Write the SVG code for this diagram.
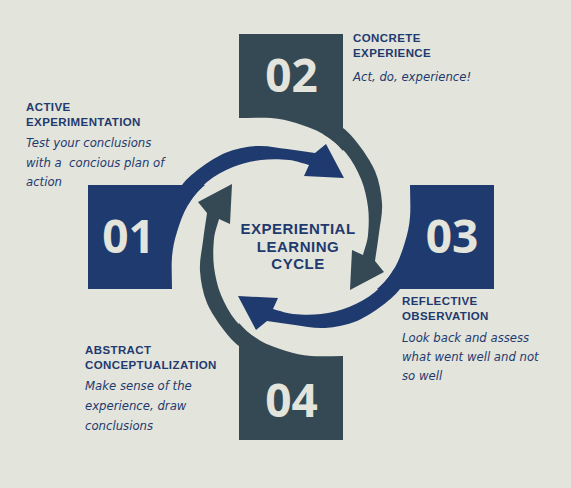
<svg xmlns="http://www.w3.org/2000/svg" width="571" height="488" viewBox="0 0 571 488">
<defs>
<style>
.navy{fill:#1f3a6e}
.slate{fill:#344954}
.num{font-family:"Open Sans","Noto Sans",sans-serif;font-weight:bold;font-size:46px;fill:#e3e4dc;text-anchor:middle}
.head{font-family:"Liberation Sans",Arial,sans-serif;font-weight:bold;font-size:11.5px;letter-spacing:0.4px;fill:#1f3a6e}
.desc{font-family:"DejaVu Sans",sans-serif;font-style:italic;font-size:11.7px;fill:#1f3a6e}
.title{font-family:"Liberation Sans",Arial,sans-serif;font-weight:bold;font-size:15px;letter-spacing:0.5px;fill:#1f3a6e;text-anchor:middle}
</style>
<path id="box" d="M -52,-203 H 52 V -86 C 46,-93 40.3,-98 32,-103 C 23.7,-108 13.7,-111.3 5,-114 C -3.7,-116.7 -10.5,-118.2 -20,-119 C -29.5,-119.8 -41.3,-119 -52,-119 Z"/>
<path id="band" d="M 52,-109 C 64,-100 79.4,-77.1 84,-66 C 88.2,-55.8 90.3,-44.3 91,-34 C 91.7,-23.7 89.2,-13.7 88,-4 C 86.8,5.7 85.3,14.7 84,24 L 93,35 L 59,53 L 61,13 L 72,18 C 73.7,11.3 76.2,6 77,-2 C 77.8,-10 78.2,-20.7 77,-30 C 75.8,-39.3 73.7,-49 70,-58 C 66.3,-67 61.3,-76.5 55,-84 C 48.7,-91.5 40.3,-98 32,-103 L 40,-122 L 52,-122 Z"/>
</defs>
<rect width="571" height="488" fill="#e3e4dc"/>

<g id="connectors" transform="translate(291,237)">
  <use href="#band" class="navy" transform="rotate(270)"/>
  <use href="#band" class="slate"/>
  <use href="#band" class="navy" transform="rotate(90)"/>
  <use href="#band" class="slate" transform="rotate(180)"/>
</g>

<g id="node-01">
  <use href="#box" class="navy" transform="translate(291,237) rotate(270)"/>
  <text class="num" x="128.5" y="253">01</text>
  <text class="head" x="26" y="111">ACTIVE</text>
  <text class="head" x="26" y="126">EXPERIMENTATION</text>
  <text class="desc" x="26" y="147">Test your conclusions</text>
  <text class="desc" x="26" y="166.5" xml:space="preserve">with a  concious plan of</text>
  <text class="desc" x="26" y="186">action</text>
</g>

<g id="node-02">
  <use href="#box" class="slate" transform="translate(291,237)"/>
  <text class="num" x="291.5" y="92">02</text>
  <text class="head" x="353" y="41.5">CONCRETE</text>
  <text class="head" x="353" y="57">EXPERIENCE</text>
  <text class="desc" x="353" y="81">Act, do, experience!</text>
</g>

<g id="node-03">
  <use href="#box" class="navy" transform="translate(291,237) rotate(90)"/>
  <text class="num" x="452" y="253">03</text>
  <text class="head" x="402" y="305">REFLECTIVE</text>
  <text class="head" x="402" y="320">OBSERVATION</text>
  <text class="desc" x="402" y="342">Look back and assess</text>
  <text class="desc" x="402" y="361">what went well and not</text>
  <text class="desc" x="402" y="380">so well</text>
</g>

<g id="node-04">
  <use href="#box" class="slate" transform="translate(291,237) rotate(180)"/>
  <text class="num" x="291.5" y="417">04</text>
  <text class="head" x="85" y="354">ABSTRACT</text>
  <text class="head" x="85" y="369">CONCEPTUALIZATION</text>
  <text class="desc" x="85" y="390">Make sense of the</text>
  <text class="desc" x="85" y="409.5">experience, draw</text>
  <text class="desc" x="85" y="429.5">conclusions</text>
</g>

<g id="center">
  <text class="title" x="298" y="234">EXPERIENTIAL</text>
  <text class="title" x="298" y="251.7">LEARNING</text>
  <text class="title" x="298" y="269.3">CYCLE</text>
</g>
</svg>
